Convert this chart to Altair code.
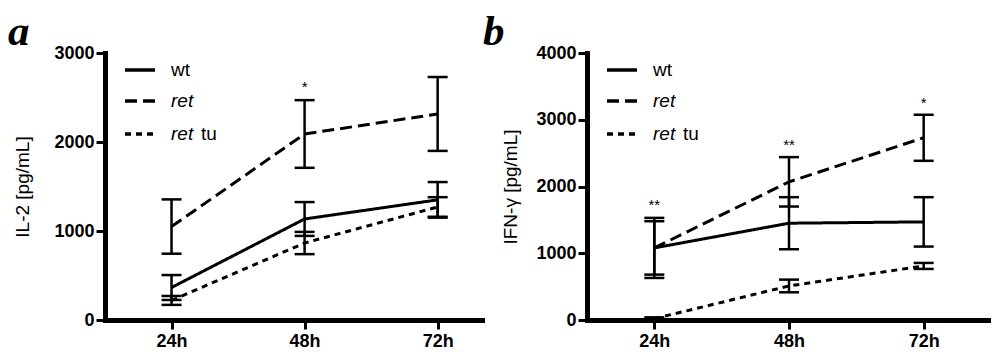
import altair as alt
import pandas as pd

# ---------------- data ----------------
times = [24, 48, 72]
time_labels = ["24h", "48h", "72h"]
series_names = ["wt", "ret", "ret tu"]

# Panel a: IL-2 [pg/mL]
il2_wt = [365, 1135, 1350]
il2_wt_err = [140, 190, 200]
il2_ret = [1050, 2090, 2315]
il2_ret_err = [305, 380, 415]
il2_rettu = [220, 865, 1270]
il2_rettu_err = [50, 125, 110]
il2_star_time = [48]
il2_star_value = [2620]
il2_star_text = ["*"]

# Panel b: IFN-γ [pg/mL]
ifn_wt = [1080, 1450, 1470]
ifn_wt_err = [400, 390, 370]
ifn_ret = [1080, 2070, 2730]
ifn_ret_err = [450, 370, 345]
ifn_rettu = [20, 510, 810]
ifn_rettu_err = [20, 95, 45]
ifn_star_time = [24, 48, 72]
ifn_star_value = [1720, 2620, 3250]
ifn_star_text = ["**", "**", "*"]

SANS = "Liberation Sans"
DASHES = [[1, 0], [12, 6], [6, 5]]


def panel(letter, means, errs, ytitle, ymax, xmax, width,
          star_t, star_v, star_txt, letter_dx, title_pad):
    rows = []
    for name, m, e in zip(series_names, means, errs):
        for t, v, d in zip(times, m, e):
            rows.append(dict(series=name, time=t, value=v, lo=v - d, hi=v + d))
    df = pd.DataFrame(rows)

    xs = alt.Scale(domain=[12, xmax], nice=False, zero=False)
    ys = alt.Scale(domain=[0, ymax], nice=False)
    xaxis = alt.Axis(
        values=times, labelExpr="datum.value + 'h'", title=None, grid=False,
        domainWidth=5, domainColor="black", domainCap="square",
        tickWidth=3, tickSize=9, tickColor="black",
        labelFont=SANS, labelFontSize=18, labelFontWeight="bold",
        labelColor="black", labelPadding=3,
    )
    yaxis = alt.Axis(
        values=list(range(0, ymax + 1, 1000)), format="d", title=ytitle,
        grid=False, domainWidth=5, domainColor="black", domainCap="square",
        tickWidth=3, tickSize=9, tickColor="black",
        labelFont=SANS, labelFontSize=18, labelFontWeight="bold",
        labelColor="black", labelPadding=2,
        titleFont=SANS, titleFontSize=19, titleFontWeight="normal",
        titleColor="black", titlePadding=title_pad,
    )
    base = alt.Chart(df)
    lines = base.mark_line(color="black", strokeWidth=3).encode(
        x=alt.X("time:Q", scale=xs, axis=xaxis),
        y=alt.Y("value:Q", scale=ys, axis=yaxis),
        strokeDash=alt.StrokeDash(
            "series:N",
            scale=alt.Scale(domain=series_names, range=DASHES),
            legend=None,
        ),
        detail="series:N",
    )
    err = base.mark_rule(color="black", strokeWidth=2.5, opacity=1).encode(
        x="time:Q", y="lo:Q", y2="hi:Q"
    )
    caps = base.transform_fold(["lo", "hi"], as_=["bound", "bv"]).mark_tick(
        color="black", orient="horizontal", size=20, thickness=2.5, opacity=1
    ).encode(x="time:Q", y="bv:Q")

    sdf = pd.DataFrame({"time": star_t, "value": star_v, "label": star_txt})
    stars = alt.Chart(sdf).mark_text(
        font=SANS, fontSize=15, color="black", baseline="middle"
    ).encode(x="time:Q", y="value:Q", text="label:N")

    # manual legend
    leg_y = [17, 48, 81]
    layers = [lines, err, caps, stars]
    for name, dash, ry in zip(series_names, DASHES, leg_y):
        ldf = pd.DataFrame({"series": [name]})
        layers.append(
            alt.Chart(ldf).mark_rule(
                color="black", strokeWidth=3.5, strokeDash=dash
            ).encode(x=alt.value(20), x2=alt.value(50), y=alt.value(ry))
        )
    word1 = ["wt", "ret", "ret"]
    styles = ["normal", "italic", "italic"]
    for w, st, ry in zip(word1, styles, leg_y):
        layers.append(
            alt.Chart(pd.DataFrame({"t": [w]})).mark_text(
                font=SANS, fontSize=19, fontStyle=st, color="black",
                align="left", baseline="middle",
            ).encode(x=alt.value(66), y=alt.value(ry), text="t:N")
        )
    layers.append(
        alt.Chart(pd.DataFrame({"t": ["tu"]})).mark_text(
            font=SANS, fontSize=19, color="black",
            align="left", baseline="middle",
        ).encode(x=alt.value(96), y=alt.value(leg_y[2]), text="t:N")
    )
    layers.append(
        alt.Chart(pd.DataFrame({"t": [letter]})).mark_text(
            font="Liberation Serif", fontSize=43, fontWeight="bold",
            fontStyle="italic", color="black", align="left", baseline="top",
        ).encode(x=alt.value(letter_dx), y=alt.value(-42), text="t:N")
    )
    return alt.layer(*layers).properties(width=width, height=267)


pa = panel("a", [il2_wt, il2_ret, il2_rettu],
           [il2_wt_err, il2_ret_err, il2_rettu_err],
           "IL-2 [pg/mL]", 3000, 80, 377,
           il2_star_time, il2_star_value, il2_star_text, -97, 21)
pb = panel("b", [ifn_wt, ifn_ret, ifn_rettu],
           [ifn_wt_err, ifn_ret_err, ifn_rettu_err],
           "IFN-γ [pg/mL]", 4000, 84, 404,
           ifn_star_time, ifn_star_value, ifn_star_text, -104, 15)

chart = alt.hconcat(pa, pb, spacing=1).properties(
    padding={"left": 0, "top": 3, "right": 0, "bottom": 0},
    background="white",
).configure_view(stroke=None)

chart.save("out.html", embed_options={"renderer": "svg", "actions": False})
